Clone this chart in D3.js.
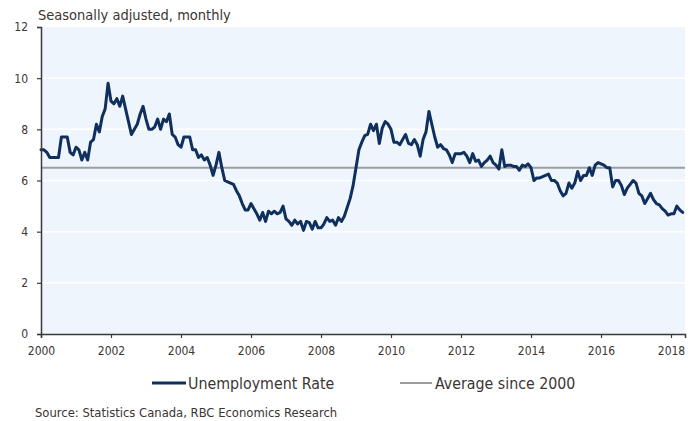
<!DOCTYPE html>
<html>
<head>
<meta charset="utf-8">
<script src="https://cdn.jsdelivr.net/npm/d3@7"></script>
<style>
  html, body { margin: 0; padding: 0; background: #fff; }
  svg { display: block; }
  text { font-family: "DejaVu Sans Condensed", "DejaVu Sans", sans-serif; }
</style>
</head>
<body>
<svg id="chart" width="700" height="421"></svg>
<script>
// ---- Data ----
const startYear = 2000;               // first month: Jan 2000
const unemploymentRate = [
  // 2000
  7.2, 7.2, 7.1, 6.9, 6.9, 6.9, 6.9, 7.7, 7.7, 7.7, 7.1, 7.0,
  // 2001
  7.3, 7.2, 6.8, 7.1, 6.8, 7.5, 7.6, 8.2, 7.9, 8.5, 8.8, 9.8,
  // 2002
  9.1, 9.0, 9.2, 8.9, 9.3, 8.8, 8.3, 7.8, 8.0, 8.2, 8.6, 8.9,
  // 2003
  8.4, 8.0, 8.0, 8.1, 8.4, 8.0, 8.4, 8.3, 8.6, 7.8, 7.7, 7.4,
  // 2004
  7.3, 7.7, 7.7, 7.7, 7.2, 7.2, 6.9, 7.0, 6.8, 6.9, 6.6, 6.2,
  // 2005
  6.6, 7.1, 6.5, 6.0, 5.95, 5.9, 5.85, 5.6, 5.4, 5.1, 4.85, 4.85,
  // 2006
  5.1, 4.9, 4.7, 4.45, 4.75, 4.4, 4.8, 4.7, 4.8, 4.7, 4.75, 5.0,
  // 2007
  4.5, 4.4, 4.25, 4.45, 4.3, 4.4, 4.05, 4.4, 4.35, 4.1, 4.4, 4.15,
  // 2008
  4.15, 4.3, 4.55, 4.4, 4.45, 4.25, 4.55, 4.4, 4.6, 4.95, 5.3, 5.8,
  // 2009
  6.5, 7.2, 7.5, 7.75, 7.8, 8.2, 7.95, 8.2, 7.45, 8.05, 8.3, 8.2,
  // 2010
  8.0, 7.5, 7.5, 7.4, 7.6, 7.8, 7.45, 7.4, 7.6, 7.4, 6.95, 7.6,
  // 2011
  7.9, 8.7, 8.2, 7.7, 7.3, 7.4, 7.25, 7.2, 7.0, 6.7, 7.05, 7.05,
  // 2012
  7.05, 7.1, 6.95, 6.7, 7.05, 6.75, 6.8, 6.55, 6.7, 6.8, 6.95, 6.7,
  // 2013
  6.6, 6.45, 7.2, 6.55, 6.6, 6.6, 6.55, 6.55, 6.4, 6.6, 6.55, 6.65,
  // 2014
  6.5, 6.0, 6.1, 6.1, 6.15, 6.2, 6.25, 6.0, 6.0, 5.9, 5.6, 5.4,
  // 2015
  5.5, 5.9, 5.7, 5.9, 6.35, 6.0, 6.2, 6.2, 6.5, 6.2, 6.6, 6.7,
  // 2016
  6.65, 6.6, 6.5, 6.5, 5.75, 6.0, 6.0, 5.8, 5.45, 5.7, 5.85, 6.0,
  // 2017
  5.9, 5.5, 5.4, 5.1, 5.3, 5.5, 5.25, 5.1, 5.05, 4.9, 4.8, 4.65,
  // 2018
  4.7, 4.7, 5.0, 4.85, 4.75
];
const averageSince2000 = 6.5;
const yTicks = [0, 2, 4, 6, 8, 10, 12];
const xTicks = [2000, 2002, 2004, 2006, 2008, 2010, 2012, 2014, 2016, 2018];
const seriesNames = ["Unemployment Rate", "Average since 2000"];
const subtitle = "Seasonally adjusted, monthly";
const sourceNote = "Source: Statistics Canada, RBC Economics Research";

// ---- Layout ----
const svg = d3.select("#chart");
const plot = { left: 41, right: 685, top: 27, bottom: 334 };
const navy = "#0f2f5c";
const grey = "#9b9ea1";
const axisColor = "#3a3a3a";
const textColor = "#3b3533";
const FONT = "DejaVu Sans Condensed, DejaVu Sans, sans-serif";

const x = d3.scaleLinear().domain([2000, 2018.4]).range([plot.left, plot.right]);
const y = d3.scaleLinear().domain([0, 12]).range([plot.bottom, plot.top]);

const points = unemploymentRate.map((v, i) => ({ t: startYear + i / 12, v }));

// plot background
svg.append("rect")
  .attr("x", plot.left).attr("y", plot.top)
  .attr("width", plot.right - plot.left).attr("height", plot.bottom - plot.top)
  .attr("fill", "#eef5fd");

// white gridlines
svg.append("g").selectAll("line")
  .data(yTicks.filter(d => d > 0 && d < 12))
  .join("line")
  .attr("x1", plot.left).attr("x2", plot.right)
  .attr("y1", d => y(d)).attr("y2", d => y(d))
  .attr("stroke", "#ffffff").attr("stroke-width", 1.5);

// average line
svg.append("line")
  .attr("x1", plot.left).attr("x2", plot.right)
  .attr("y1", y(averageSince2000)).attr("y2", y(averageSince2000))
  .attr("stroke", grey).attr("stroke-width", 2);

// unemployment line
const line = d3.line().x(d => x(d.t)).y(d => y(d.v));
svg.append("path")
  .datum(points)
  .attr("d", line)
  .attr("fill", "none")
  .attr("stroke", navy)
  .attr("stroke-width", 3)
  .attr("stroke-linejoin", "round")
  .attr("stroke-linecap", "round");

// y axis
const yAxis = svg.append("g")
  .attr("transform", `translate(${plot.left},0)`)
  .call(d3.axisLeft(y).tickValues(yTicks).tickSize(4).tickPadding(9).tickFormat(d3.format("d")));
yAxis.select(".domain").attr("stroke", axisColor).attr("stroke-width", 1.5);
yAxis.selectAll(".tick line").attr("stroke", axisColor).attr("stroke-width", 1.2);
yAxis.selectAll(".tick text")
  .attr("fill", textColor).style("font-size", "12px").style("font-family", FONT);

// x axis
const xAxis = svg.append("g")
  .attr("transform", `translate(0,${plot.bottom})`)
  .call(d3.axisBottom(x).tickValues(xTicks).tickSize(4).tickPadding(8).tickFormat(d3.format("d")));
xAxis.select(".domain").attr("stroke", axisColor).attr("stroke-width", 1.5);
xAxis.selectAll(".tick line").attr("stroke", axisColor).attr("stroke-width", 1.2);
xAxis.selectAll(".tick text")
  .attr("fill", textColor).style("font-size", "12px").style("font-family", FONT);

// subtitle
svg.append("text")
  .attr("x", 38).attr("y", 20)
  .attr("fill", textColor).style("font-size", "14.5px")
  .text(subtitle);

// legend
const legend = svg.append("g").attr("transform", "translate(0,383)");
const legendItems = [
  { name: seriesNames[0], color: navy, w: 3.2, x0: 152, x1: 186, tx: 188 },
  { name: seriesNames[1], color: grey, w: 2, x0: 400, x1: 432, tx: 435 }
];
legendItems.forEach(it => {
  legend.append("line")
    .attr("x1", it.x0).attr("x2", it.x1).attr("y1", 0).attr("y2", 0)
    .attr("stroke", it.color).attr("stroke-width", it.w);
  legend.append("text")
    .attr("x", it.tx).attr("y", 5.8)
    .attr("fill", textColor).style("font-size", "15.8px")
    .text(it.name);
});

// source
svg.append("text")
  .attr("x", 35).attr("y", 417)
  .attr("fill", textColor).style("font-size", "12.9px")
  .text(sourceNote);
</script>
</body>
</html>
